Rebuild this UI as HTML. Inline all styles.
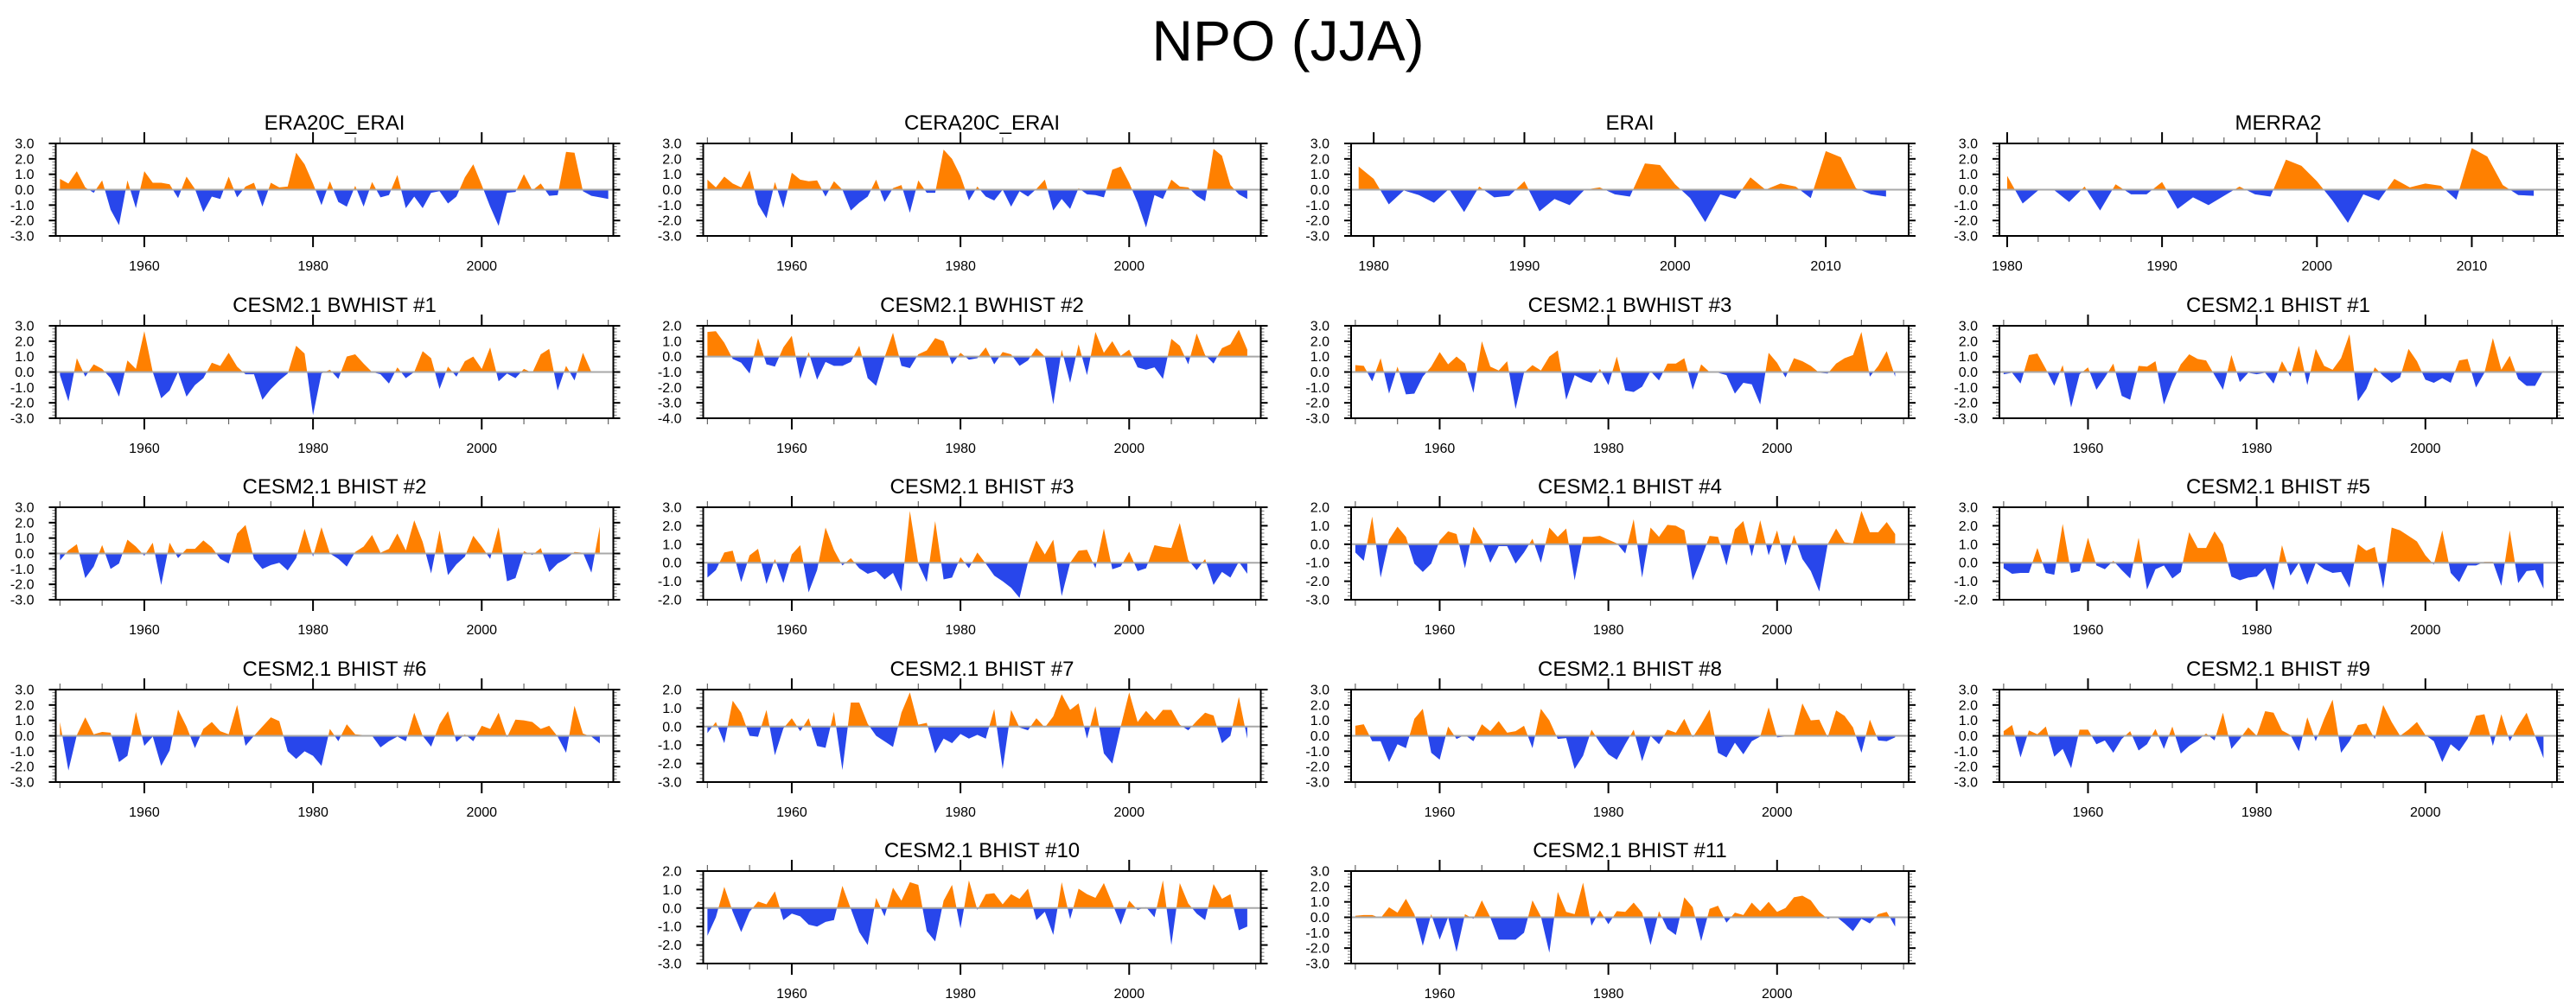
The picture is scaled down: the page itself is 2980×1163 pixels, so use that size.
<!DOCTYPE html>
<html><head><meta charset="utf-8"><title>NPO (JJA)</title>
<style>
html,body{margin:0;padding:0;background:#fff;}
svg{display:block;font-family:"Liberation Sans",Arial,sans-serif;}
</style></head>
<body>
<svg id="chart" xmlns="http://www.w3.org/2000/svg" width="2980" height="1163" viewBox="0 0 2980 1163">
<rect x="0" y="0" width="2980" height="1163" fill="#ffffff"/>
<text x="1490" y="70" text-anchor="middle" font-size="66" fill="#000">NPO (JJA)</text>
</svg>
<script>
// ---- data (one value per year, starting at each panel's start year) ----
const era20cVals=[0.7,0.4,1.2,0.15,-0.2,0.6,-1.3,-2.3,0.6,-1.2,1.2,0.45,0.45,0.35,-0.55,0.85,0.05,-1.45,-0.45,-0.6,0.85,-0.5,0.2,0.45,-1.1,0.45,0.15,0.2,2.4,1.65,0.4,-1.0,0.55,-0.8,-1.1,0.25,-1.1,0.5,-0.5,-0.35,0.95,-1.2,-0.45,-1.2,-0.2,-0.1,-0.9,-0.45,0.8,1.65,0.3,-1.1,-2.35,-0.2,-0.15,1.0,-0.05,0.4,-0.4,-0.35,2.45,2.4,-0.1,-0.4,-0.5,-0.6];
const cera20cVals=[0.65,0.15,0.85,0.4,0.15,1.25,-0.95,-1.85,0.5,-1.2,1.1,0.65,0.55,0.6,-0.45,0.55,0,-1.35,-0.85,-0.45,0.65,-0.8,0.1,0.3,-1.5,0.6,-0.2,-0.2,2.6,2.0,0.9,-0.7,0.2,-0.45,-0.7,0,-1.1,-0.1,-0.45,0.05,0.65,-1.35,-0.6,-1.25,0.1,-0.3,-0.35,-0.5,1.3,1.5,0.45,-0.85,-2.45,-0.35,-0.6,0.65,0.2,0.15,-0.4,-0.75,2.65,2.2,0.3,-0.3,-0.6];
const eraiVals=[1.5,0.7,-0.95,-0.05,-0.35,-0.85,0.05,-1.45,0.2,-0.5,-0.4,0.55,-1.4,-0.6,-1.0,0,0.15,-0.3,-0.45,1.7,1.6,0.35,-0.55,-2.1,-0.3,-0.6,0.8,0,0.4,0.2,-0.55,2.5,2.1,0.1,-0.3,-0.45];
const merra2Vals=[0.9,-0.9,-0.05,0,-0.8,0.2,-1.35,0.35,-0.3,-0.3,0.5,-1.25,-0.5,-1.0,-0.4,0.2,-0.3,-0.45,1.95,1.55,0.55,-0.7,-2.15,-0.3,-0.7,0.7,0.15,0.4,0.25,-0.65,2.7,2.15,0.3,-0.35,-0.4];
const bwhist1Vals=[-0.2,-1.9,0.9,-0.3,0.5,0.2,-0.4,-1.6,0.75,0.2,2.65,0,-1.7,-1.2,0,-1.6,-0.85,-0.4,0.6,0.4,1.25,0.35,-0.15,-0.15,-1.8,-1.1,-0.55,-0.1,1.7,1.2,-2.8,-0.1,0.15,-0.45,1.0,1.15,0.55,0,-0.15,-0.75,0.3,-0.4,0,1.35,0.9,-1.1,0.35,-0.3,0.7,1.0,0.2,1.6,-0.6,-0.1,-0.4,0.2,-0.05,1.15,1.5,-1.2,0.4,-0.55,1.25,0,-0.05];
const bwhist2Vals=[1.6,1.65,0.9,-0.15,-0.4,-1.1,1.2,-0.5,-0.65,0.6,1.35,-1.45,0.3,-1.5,-0.35,-0.6,-0.6,-0.35,0.7,-1.4,-1.9,-0.05,1.55,-0.6,-0.75,0.15,0.4,1.2,1.0,-0.5,0.25,-0.2,-0.1,0.6,-0.5,0.3,0.15,-0.6,-0.25,0.55,0,-3.1,0.45,-1.7,0.8,-1.2,1.6,0.25,1.0,0.05,0.45,-0.7,-0.85,-0.7,-1.45,1.15,0.7,-0.5,1.5,0.1,-0.45,0.55,0.8,1.75,0.45];
const bwhist3Vals=[0.45,0.4,-0.6,0.9,-1.4,0.35,-1.45,-1.4,-0.3,0.35,1.3,0.5,1.0,0.55,-1.35,2.0,0.35,0.1,0.7,-2.4,-0.05,0.45,0.1,1.0,1.4,-1.8,-0.2,-0.5,-0.7,0.2,-0.85,1.0,-1.2,-1.3,-0.95,0.05,-0.55,0.55,0.55,0.9,-1.15,0.5,0,-0.05,-0.2,-1.4,-0.7,-0.8,-2.1,1.25,0.6,-0.35,0.9,0.7,0.4,-0.05,-0.1,0.55,0.9,1.1,2.6,-0.3,0.4,1.35,-0.3];
const bhist1Vals=[-0.15,-0.05,-0.75,1.1,1.2,0.2,-0.9,0.45,-2.3,-0.15,0.3,-1.15,-0.35,0.55,-1.55,-1.8,0.4,0.35,0.7,-2.1,-0.65,0.5,1.15,0.85,0.75,-0.2,-1.15,1.1,-0.65,-0.05,-0.15,-0.05,-0.75,0.7,-0.3,1.7,-0.85,1.5,0.4,0.15,0.9,2.45,-1.9,-1.1,0.3,-0.25,-0.7,-0.35,1.5,0.7,-0.5,-0.7,-0.4,-0.7,0.75,0.85,-1.0,-0.05,2.2,0.15,1.05,-0.45,-0.9,-0.9,0.1];
const bhist2Vals=[-0.45,0.2,0.6,-1.6,-0.85,0.55,-1.0,-0.65,0.9,0.45,-0.15,0.7,-2.05,0.7,-0.3,0.3,0.3,0.85,0.4,-0.35,-0.65,1.3,1.85,-0.35,-1.0,-0.75,-0.6,-1.1,-0.3,1.6,-0.2,1.7,0,-0.35,-0.85,0.1,0.45,1.2,0.05,0.3,1.3,0.2,2.15,0.75,-1.3,1.5,-1.4,-0.7,-0.2,1.15,0.45,-0.35,1.7,-1.8,-1.6,0.15,-0.1,0.35,-1.2,-0.65,-0.35,0.1,0.05,-1.25,1.75];
const bhist3Vals=[-0.8,-0.4,0.55,0.65,-1.05,0.4,0.75,-1.15,0.2,-1.1,0.45,0.95,-1.6,-0.4,1.9,0.7,-0.15,0.25,-0.3,-0.6,-0.45,-0.9,-0.55,-1.55,2.8,-0.05,-1.05,2.25,-0.9,-0.8,0.3,-0.3,0.55,-0.05,-0.7,-1.0,-1.35,-1.9,0,1.2,0.45,1.25,-1.8,0,0.65,0.7,-0.3,1.85,-0.35,-0.2,0.6,-0.45,-0.3,0.95,0.85,0.8,2.15,0.15,-0.4,0.2,-1.2,-0.5,-0.8,0.05,-0.6];
const bhist4Vals=[-0.45,-0.9,1.5,-1.8,0.25,0.95,0.4,-1.05,-1.5,-1.05,0.2,0.7,0.55,-1.3,0.95,0.2,-1.0,-0.1,-0.1,-1.05,-0.45,0.3,-1.0,0.9,0.4,0.85,-1.95,0.4,0.4,0.45,0.25,0.05,-0.5,1.35,-1.8,0.9,0.4,1.05,1.0,0.75,-1.95,-0.8,0.45,0.4,-1.15,0.8,1.25,-0.65,1.3,-0.6,0.75,-1.15,0.5,-0.8,-1.45,-2.55,0,0.85,0.1,0.05,1.8,0.65,0.65,1.2,0.55];
const bhist5Vals=[-0.3,-0.6,-0.55,-0.55,0.8,-0.55,-0.65,2.1,-0.55,-0.45,1.35,-0.15,-0.35,0.1,-0.4,-0.85,1.35,-1.45,-0.35,-0.15,-0.85,-0.5,1.65,0.8,0.8,1.7,1.0,-0.75,-0.95,-0.8,-0.75,-0.3,-1.5,0.95,-0.7,0,-1.2,0,-0.35,-0.55,-0.5,-1.35,1.0,0.65,0.85,-1.4,1.9,1.75,1.45,1.15,0.4,-0.1,1.75,-0.55,-1.05,-0.15,-0.15,0.05,0.05,-1.25,1.75,-1.1,-0.45,-0.4,-1.4];
const bhist6Vals=[0.9,-2.25,0.05,1.2,0.1,0.25,0.2,-1.7,-1.3,1.55,-0.65,-0.05,-1.95,-0.95,1.7,0.6,-0.8,0.45,0.9,0.3,0.1,2.0,-0.65,0,0.6,1.2,0.95,-1.0,-1.5,-1.0,-1.3,-1.95,0.45,-0.35,0.75,0.1,0.05,0,-0.75,-0.35,-0.05,-0.35,1.5,0,-0.7,0.75,1.6,-0.4,0.1,-0.35,0.65,0.45,1.5,-0.1,1.05,1.0,0.9,0.45,0.65,-0.05,-1.1,1.95,0.15,-0.05,-0.5];
const bhist7Vals=[-0.35,0.25,-0.9,1.4,0.75,-0.5,-0.55,0.9,-1.55,-0.1,0.45,-0.25,0.45,-1.05,-1.15,0.8,-2.35,1.3,1.3,0.15,-0.5,-0.8,-1.1,0.75,1.85,0.1,0.2,-1.45,-0.65,-0.9,-0.4,-0.65,-0.45,-0.65,0.95,-2.3,0.9,-0.05,-0.2,0.45,-0.05,0.55,1.75,0.9,1.25,-0.65,1.1,-1.45,-2.0,0,1.85,0.25,0.85,0.35,0.9,0.9,0.1,-0.2,0.3,0.75,0.6,-0.9,-0.5,1.6,-0.65];
const bhist8Vals=[0.65,0.75,-0.35,-0.35,-1.7,-0.55,-0.8,1.1,1.75,-1.1,-1.55,0.6,-0.2,0.05,-0.35,0.75,0.3,0.95,0.2,0.3,0.65,-0.8,1.75,1.0,-0.2,-0.15,-2.15,-1.3,0.4,-0.45,-1.2,-1.55,-0.55,0.4,-1.65,0,-0.55,0.4,0.2,1.1,-0.1,0.75,1.7,-1.1,-1.4,-0.45,-1.2,-0.35,-0.05,1.85,-0.1,-0.05,0,2.1,1.0,1.05,-0.1,1.65,1.3,0.55,-1.1,1.05,-0.3,-0.35,-0.1];
const bhist9Vals=[0.3,0.7,-1.4,0.35,0.1,0.6,-1.35,-0.85,-2.1,0.4,0.4,-0.55,-0.3,-1.1,-0.2,0.3,-0.95,-0.55,0.45,-0.85,0.6,-1.15,-0.65,-0.3,0.15,-0.3,1.5,-0.85,-0.2,0.55,0,1.6,1.5,0.35,0.05,-1.0,1.2,-0.35,1.1,2.35,-1.1,-0.35,0.7,0.8,-0.2,2.0,0.9,0,0.4,0.9,0.05,-0.35,-1.7,-0.55,-1.0,-0.2,1.3,1.4,-0.65,1.4,-0.35,0.65,1.5,0,-1.45];
const bhist10Vals=[-1.5,-0.5,1.15,-0.2,-1.3,-0.2,0.35,0.2,0.9,-0.65,-0.3,-0.45,-0.9,-1.0,-0.75,-0.65,1.2,-0.05,-1.3,-2.0,0.55,-0.45,1.1,0.4,1.4,1.25,-1.25,-1.8,0.4,1.25,-1.1,1.5,-0.1,0.75,0.8,0.2,0.75,0.5,1.05,-0.65,-0.2,-1.45,1.4,-0.6,1.05,0.75,0.55,1.35,0.25,-0.9,0.4,-0.1,0.05,-0.5,1.5,-2.0,1.35,0.25,-0.3,-0.65,1.3,0.5,0.75,-1.2,-1.0];
const bhist11Vals=[0.1,0.15,0.15,-0.05,0.65,0.3,1.2,0.2,-1.85,0.2,-1.45,0,-2.25,0.2,-0.1,1.1,0,-1.45,-1.45,-1.45,-1.0,1.1,0.05,-2.3,1.65,0.35,0.2,2.25,-0.55,0.45,-0.45,0.4,0.35,0.95,0.3,-1.8,0.4,-0.75,-1.15,1.3,0.65,-1.55,0.55,0.75,-0.35,0.3,0.15,0.95,0.4,1.0,0.35,0.6,1.3,1.4,1.1,0.35,-0.1,0.05,-0.4,-0.9,-0.1,-0.4,0.2,0.35,-0.6];

// ---- axis tick labels ----
const yTickLabels33=["-3.0","-2.0","-1.0","0.0","1.0","2.0","3.0"];
const yTickLabels42=["-4.0","-3.0","-2.0","-1.0","0.0","1.0","2.0"];
const yTickLabels23=["-2.0","-1.0","0.0","1.0","2.0","3.0"];
const yTickLabels32=["-3.0","-2.0","-1.0","0.0","1.0","2.0"];
const xTickLabelsLong=["1960","1980","2000"];
const xTickLabelsShort=["1980","1990","2000","2010"];

// ---- panel definitions: title, grid cell, data, start year, y range ----
const panels=[
 {title:"ERA20C_ERAI",slug:"era20c-erai",row:0,col:0,vals:era20cVals,start:1950,ylo:-3,yhi:3,lab:yTickLabels33,kind:"long"},
 {title:"CERA20C_ERAI",slug:"cera20c-erai",row:0,col:1,vals:cera20cVals,start:1950,ylo:-3,yhi:3,lab:yTickLabels33,kind:"long"},
 {title:"ERAI",slug:"erai",row:0,col:2,vals:eraiVals,start:1979,ylo:-3,yhi:3,lab:yTickLabels33,kind:"erai"},
 {title:"MERRA2",slug:"merra2",row:0,col:3,vals:merra2Vals,start:1980,ylo:-3,yhi:3,lab:yTickLabels33,kind:"merra"},
 {title:"CESM2.1 BWHIST #1",slug:"bwhist-1",row:1,col:0,vals:bwhist1Vals,start:1950,ylo:-3,yhi:3,lab:yTickLabels33,kind:"long"},
 {title:"CESM2.1 BWHIST #2",slug:"bwhist-2",row:1,col:1,vals:bwhist2Vals,start:1950,ylo:-4,yhi:2,lab:yTickLabels42,kind:"long"},
 {title:"CESM2.1 BWHIST #3",slug:"bwhist-3",row:1,col:2,vals:bwhist3Vals,start:1950,ylo:-3,yhi:3,lab:yTickLabels33,kind:"long"},
 {title:"CESM2.1 BHIST #1",slug:"bhist-1",row:1,col:3,vals:bhist1Vals,start:1950,ylo:-3,yhi:3,lab:yTickLabels33,kind:"long"},
 {title:"CESM2.1 BHIST #2",slug:"bhist-2",row:2,col:0,vals:bhist2Vals,start:1950,ylo:-3,yhi:3,lab:yTickLabels33,kind:"long"},
 {title:"CESM2.1 BHIST #3",slug:"bhist-3",row:2,col:1,vals:bhist3Vals,start:1950,ylo:-2,yhi:3,lab:yTickLabels23,kind:"long"},
 {title:"CESM2.1 BHIST #4",slug:"bhist-4",row:2,col:2,vals:bhist4Vals,start:1950,ylo:-3,yhi:2,lab:yTickLabels32,kind:"long"},
 {title:"CESM2.1 BHIST #5",slug:"bhist-5",row:2,col:3,vals:bhist5Vals,start:1950,ylo:-2,yhi:3,lab:yTickLabels23,kind:"long"},
 {title:"CESM2.1 BHIST #6",slug:"bhist-6",row:3,col:0,vals:bhist6Vals,start:1950,ylo:-3,yhi:3,lab:yTickLabels33,kind:"long"},
 {title:"CESM2.1 BHIST #7",slug:"bhist-7",row:3,col:1,vals:bhist7Vals,start:1950,ylo:-3,yhi:2,lab:yTickLabels32,kind:"long"},
 {title:"CESM2.1 BHIST #8",slug:"bhist-8",row:3,col:2,vals:bhist8Vals,start:1950,ylo:-3,yhi:3,lab:yTickLabels33,kind:"long"},
 {title:"CESM2.1 BHIST #9",slug:"bhist-9",row:3,col:3,vals:bhist9Vals,start:1950,ylo:-3,yhi:3,lab:yTickLabels33,kind:"long"},
 {title:"CESM2.1 BHIST #10",slug:"bhist-10",row:4,col:1,vals:bhist10Vals,start:1950,ylo:-3,yhi:2,lab:yTickLabels32,kind:"long"},
 {title:"CESM2.1 BHIST #11",slug:"bhist-11",row:4,col:2,vals:bhist11Vals,start:1950,ylo:-3,yhi:3,lab:yTickLabels33,kind:"long"}
];

// ---- layout ----
const NS="http://www.w3.org/2000/svg";
const svg=document.getElementById("chart");
const colLeft=[64.5,813.5,1563,2313];
const rowTop=[166,377,587,798,1008];
const PW=645,PH=107;
const ORANGE="#FF8000",BLUE="#2846EB";

function el(tag,attrs,parent){
  const e=document.createElementNS(NS,tag);
  for(const k in attrs)e.setAttribute(k,attrs[k]);
  parent.appendChild(e);
  return e;
}

function xAxisSpec(kind){
  if(kind==="erai")return {lo:1978.5,hi:2015.5,minStep:2,minStart:1980,minEnd:2014,majors:[1980,1990,2000,2010],labels:xTickLabelsShort};
  if(kind==="merra")return {lo:1979.5,hi:2015.5,minStep:2,minStart:1980,minEnd:2014,majors:[1980,1990,2000,2010],labels:xTickLabelsShort};
  return {lo:1949.5,hi:2015.6,minStep:5,minStart:1950,minEnd:2015,majors:[1960,1980,2000],labels:xTickLabelsLong};
}

panels.forEach((p,pi)=>{
  const L=colLeft[p.col],T=rowTop[p.row],R=L+PW,B=T+PH;
  const ax=xAxisSpec(p.kind);
  const xs=v=>L+(v-ax.lo)/(ax.hi-ax.lo)*PW;
  const ys=v=>T+(p.yhi-v)/(p.yhi-p.ylo)*PH;
  const g=el("g",{},svg);
  
  

  const title=el("text",{x:(L+R)/2,y:T-16,"text-anchor":"middle","font-size":24,fill:"#000"},g);
  title.textContent=p.title;
  
  

  // clip paths for positive / negative fill
  const y0=ys(0);
  const defs=el("defs",{},g);
  const cpA=el("clipPath",{id:"ca"+pi},defs);
  el("rect",{x:L,y:T,width:PW,height:y0-T},cpA);
  const cpB=el("clipPath",{id:"cb"+pi},defs);
  el("rect",{x:L,y:y0,width:PW,height:B-y0},cpB);

  let d="M"+xs(p.start).toFixed(2)+","+y0.toFixed(2);
  p.vals.forEach((v,i)=>{d+=" L"+xs(p.start+i).toFixed(2)+","+ys(v).toFixed(2);});
  d+=" L"+xs(p.start+p.vals.length-1).toFixed(2)+","+y0.toFixed(2)+" Z";
  const pos=el("path",{d:d,fill:ORANGE,"clip-path":"url(#ca"+pi+")"},g);
  
  
  const neg=el("path",{d:d,fill:BLUE,"clip-path":"url(#cb"+pi+")"},g);
  
  

  const zl=el("line",{x1:L,x2:R,y1:y0,y2:y0,stroke:"#a8a8a8","stroke-width":2},g);
  
  

  // y ticks
  const yt=el("g",{stroke:"#000"},g);
  
  
  const nMin=Math.round((p.yhi-p.ylo)*5);
  for(let k=0;k<=nMin;k++){
    const v=p.ylo+k*0.2,y=ys(v);
    const major=(k%5===0);
    const len=major?8:4;
    el("line",{x1:L-len,x2:L,y1:y,y2:y,"stroke-width":major?2:1,stroke:major?"#000":"#777"},yt);
    el("line",{x1:R,x2:R+len,y1:y,y2:y,"stroke-width":major?2:1,stroke:major?"#000":"#777"},yt);
  }
  p.lab.forEach((s,i)=>{
    const t=el("text",{x:L-25,y:ys(p.ylo+i)+5.5,"text-anchor":"end","font-size":16,fill:"#000",stroke:"none"},yt);
    t.textContent=s;
  });

  // x ticks
  const xt=el("g",{stroke:"#000"},g);
  
  
  for(let yr=ax.minStart;yr<=ax.minEnd;yr+=ax.minStep){
    const x=xs(yr);
    const major=ax.majors.indexOf(yr)>=0;
    const len=major?13:7;
    el("line",{x1:x,x2:x,y1:B,y2:B+len,"stroke-width":major?2:1.2,stroke:major?"#000":"#666"},xt);
    el("line",{x1:x,x2:x,y1:T-len,y2:T,"stroke-width":major?2:1.2,stroke:major?"#000":"#666"},xt);
  }
  ax.labels.forEach((s,i)=>{
    const t=el("text",{x:xs(ax.majors[i]),y:B+40,"text-anchor":"middle","font-size":16,fill:"#000",stroke:"none"},xt);
    t.textContent=s;
  });

  const border=el("rect",{x:L,y:T,width:PW,height:PH,fill:"none",stroke:"#000","stroke-width":2},g);
  
  
});
</script>
</body></html>
